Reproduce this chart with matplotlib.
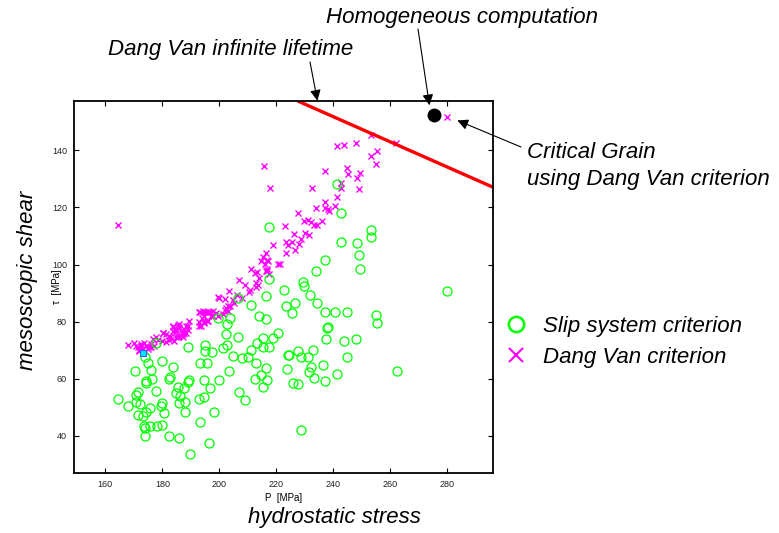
import matplotlib
matplotlib.use("Agg")
import matplotlib.pyplot as plt
from matplotlib.lines import Line2D

plt.rcParams["font.family"] = ["Liberation Sans", "DejaVu Sans"]

# slip system criterion (green circles): P [MPa], tau [MPa]
slip_P = [
    177.8, 206.4, 199.4, 202.6, 203.6, 202.4, 206.6, 211.2, 216.4, 216.5, 213.8, 220.5,
    218.7, 215.3, 213.2, 215.4, 217.3, 222.8, 223.4, 224.1, 223.6, 188.9, 195.1, 194.9,
    197.3, 201.1, 202.8, 204.9, 208.0, 210.1, 211.0, 213.0, 216.4, 214.6, 212.6, 216.7,
    215.2, 207.0, 208.9, 203.3, 199.8, 196.6, 194.6, 193.3, 195.7, 194.7, 193.0, 198.2,
    193.1, 196.5, 189.6, 185.7, 182.5, 188.0, 188.0, 186.0, 186.2, 184.8, 185.6, 187.6,
    189.5, 189.0, 182.2, 182.7, 183.9, 180.0, 176.1, 176.4, 174.3, 174.1, 177.8, 170.5,
    174.8, 174.0, 171.6, 170.9, 164.3, 168.1, 170.8, 172.3, 171.6, 173.3, 174.1, 175.8,
    179.4, 179.9, 180.5, 173.7, 175.5, 178.0, 179.9, 173.8, 173.9,
    229.5, 229.8, 231.8, 226.6, 225.6, 234.1, 237.0, 240.7, 244.8, 255.1, 255.2, 280.0,
    237.7, 238.2, 237.5, 243.8, 248.1, 244.9, 232.7, 227.7, 224.5, 228.5, 231.0, 232.2,
    236.3, 231.3, 233.1, 241.4, 237.0, 262.2, 226.0, 227.7, 228.6,
    241.3, 242.5, 242.5, 248.2, 248.9, 249.3, 237.2, 233.9, 253.1, 253.3, 217.5, 217.3,
]
slip_tau = [
    72.7, 88.2, 81.3, 79.2, 81.3, 75.7, 74.5, 86.0, 89.1, 81.0, 82.0, 76.0,
    74.3, 74.3, 72.4, 71.0, 71.3, 91.1, 85.4, 68.4, 63.3, 71.0, 71.8, 69.6,
    69.5, 70.8, 71.9, 68.1, 67.3, 67.8, 70.0, 65.5, 63.7, 61.2, 60.1, 59.5,
    57.2, 55.5, 52.5, 62.7, 59.5, 56.7, 59.6, 65.7, 65.7, 53.6, 52.9, 48.2,
    44.8, 37.5, 33.6, 39.2, 40.0, 48.5, 51.8, 51.5, 54.0, 55.1, 57.0, 56.7,
    59.7, 58.7, 60.0, 60.7, 64.2, 66.3, 63.0, 60.0, 59.3, 58.5, 55.7, 62.7,
    65.7, 67.7, 55.4, 54.3, 52.9, 50.3, 51.8, 51.1, 47.3, 46.8, 48.2, 49.6,
    50.3, 51.6, 48.0, 43.5, 43.5, 43.5, 43.9, 42.7, 40.0,
    93.8, 92.4, 89.4, 86.4, 83.0, 86.4, 83.5, 83.3, 83.5, 82.5, 79.4, 90.8,
    77.9, 78.3, 74.0, 73.1, 74.1, 67.8, 70.2, 69.6, 68.5, 67.5, 67.5, 64.3,
    65.0, 62.3, 60.2, 61.6, 59.2, 62.8, 58.5, 58.0, 42.1,
    128.1, 118.2, 107.8, 107.7, 103.4, 98.4, 101.6, 97.8, 112.0, 109.7, 113.2, 95.1,
]

# Dang Van criterion (magenta crosses)
dv_P = [
    280.0, 241.1, 243.7, 248.1, 253.1, 262.0, 253.2, 255.2, 255.0, 237.0, 244.9, 245.0,
    249.2, 248.3, 242.5, 242.6, 248.9, 232.6, 241.4, 237.0, 237.0, 238.0, 238.5, 240.7,
    233.8, 227.7, 236.1, 231.2, 232.1, 229.6, 233.2, 234.3, 222.9, 226.1, 230.1, 231.3,
    223.4, 225.5, 228.8, 228.1, 224.2, 226.6, 223.5, 221.1,
    164.3, 215.5, 217.7, 218.8, 216.5, 215.2, 216.7, 214.6, 216.1, 220.6, 211.1, 213.2,
    216.4, 213.8, 212.8, 217.3, 207.0, 209.0, 210.9, 203.3, 206.2, 210.3,
    216.9, 216.6, 216.8, 212.5, 213.4, 212.9, 208.0, 199.8, 202.0, 205.0, 203.9, 202.4,
    202.9, 195.3, 196.8, 198.8, 199.4, 201.2, 197.6,
    199.6, 204.7, 202.9, 202.0, 197.9, 196.9, 194.7, 193.3, 193.9, 194.7, 193.0, 195.9,
    189.5, 188.3, 188.9, 185.7, 186.0, 183.9, 184.8, 183.6, 187.1, 186.0, 187.7, 182.7,
    184.8, 184.2, 181.3, 180.1, 179.9, 181.3, 182.5,
    167.8, 170.2, 170.8, 171.3, 171.9, 172.5, 173.7, 174.3, 174.8, 175.4, 176.0, 176.6,
    177.8, 178.4, 180.1, 182.5, 183.0, 183.6, 184.8, 185.4, 186.5, 187.7, 188.3, 188.9,
    185.4, 187.1, 193.0, 194.1, 194.7, 193.0, 194.7, 193.6, 195.6, 195.9, 173.1, 171.9,
    174.0, 176.0, 177.2, 172.5,
]
dv_tau = [
    151.6, 141.6, 141.8, 142.6, 145.3, 142.6, 137.9, 139.8, 135.2, 132.7, 133.9, 131.7,
    132.2, 130.4, 128.7, 126.9, 126.6, 126.7, 123.5, 122.0, 119.9, 119.4, 118.9, 120.4,
    119.9, 118.2, 115.4, 115.7, 114.8, 115.1, 113.9, 113.7, 113.6, 110.8, 111.0, 110.4,
    107.8, 107.8, 108.8, 107.3, 107.0, 105.2, 104.2, 100.2,
    114.0, 134.5, 126.9, 106.9, 104.2, 102.8, 101.6, 101.4, 100.2, 100.3, 98.5, 97.3,
    97.9, 95.3, 93.7, 96.7, 94.6, 92.9, 91.1, 90.8, 89.5, 90.3,
    101.4, 97.6, 98.5, 97.1, 93.0, 92.3, 88.3, 88.3, 88.0, 86.4, 85.4, 84.8,
    83.9, 83.5, 83.3, 83.0, 82.1, 82.7, 82.1,
    88.5, 87.6, 85.6, 84.1, 83.9, 82.1, 83.3, 83.3, 81.3, 79.4, 78.6, 80.3,
    80.1, 78.6, 77.1, 79.2, 78.0, 78.4, 76.8, 76.6, 75.7, 75.1, 76.2, 74.7,
    74.5, 73.3, 75.7, 76.2, 73.3, 73.0, 73.6,
    71.8, 72.7, 71.6, 71.0, 70.1, 72.2, 72.7, 71.6, 70.4, 71.0, 72.2, 73.9,
    74.7, 73.6, 75.9, 75.1, 73.9, 78.2, 77.4, 78.9, 76.8, 77.4, 76.2, 78.6,
    74.5, 74.7, 83.3, 83.9, 82.1, 79.8, 79.8, 78.6, 80.4, 83.3, 70.4, 69.6,
    69.8, 71.0, 71.6, 71.6,
]

# Dang Van infinite lifetime line, homogeneous computation, odd grain
line_P = [227.5, 296.0]
line_tau = [157.3, 127.1]
homog_P, homog_tau = 275.2, 152.3
cyan_P, cyan_tau = 173.2, 69.1

xticks = [160, 180, 200, 220, 240, 260, 280]
yticks = [40, 60, 80, 100, 120, 140]

W, H = 779, 533
fig = plt.figure(figsize=(W / 100, H / 100), dpi=100)
ax = fig.add_axes([74 / W, 1 - 473 / H, 419 / W, 372 / H])

ax.plot(dv_P, dv_tau, ls="none", marker="x", ms=4, mew=1.0, color="#ff00ff")
ax.plot(slip_P, slip_tau, ls="none", marker="o", ms=6.5, mew=0.9,
        mfc="none", mec="#00ff00")
ax.plot([cyan_P], [cyan_tau], ls="none", marker="s", ms=4.5, mfc="#00e5ff",
        mec="#3060ff", mew=0.8)
ax.plot(line_P, line_tau, color="#ff0000", lw=2.4, solid_capstyle="butt")
ax.plot([homog_P], [homog_tau], ls="none", marker="o", ms=9, color="black")

ax.set_xlim(149, 296)
ax.set_ylim(27, 157.3)
ax.set_xticks(xticks)
ax.set_yticks(yticks)
ax.tick_params(direction="in", top=True, right=True, length=3.5, width=0.8,
               labelsize=6.5, labelcolor="#222222", pad=5)
for s in ax.spines.values():
    s.set_linewidth(1.3)

ax.set_xlabel("P  [MPa]", fontsize=7, labelpad=3)
ax.set_ylabel("τ  [MPa]", fontsize=7)
ax.yaxis.set_label_coords(-0.029, 0.5)

big = dict(fontsize=16, style="italic")
fig.text(334 / W, 1 - 518 / H, "hydrostatic stress", ha="center", va="center", **big)
fig.text(28 / W, 1 - 280 / H, "mesoscopic shear", ha="center", va="center",
         rotation=90, **big)

arrow = dict(arrowstyle="-|>", color="black", lw=0.8, mutation_scale=16,
             shrinkA=0, shrinkB=0)
fig.text(598 / W, 1 - 17 / H, "Homogeneous computation", ha="right", va="center", **big)
ax.annotate("", xy=(273.7, 155.8), xycoords="data",
            xytext=(418 / W, 1 - 29 / H), textcoords="figure fraction",
            arrowprops=arrow, annotation_clip=False)
fig.text(108 / W, 1 - 50 / H, "Dang Van infinite lifetime", ha="left", va="center", **big)
ax.annotate("", xy=(234.4, 157.4), xycoords="data",
            xytext=(310 / W, 1 - 62 / H), textcoords="figure fraction",
            arrowprops=arrow, annotation_clip=False)
fig.text(527 / W, 1 - 166 / H, "Critical Grain\nusing Dang Van criterion",
         ha="left", va="center", linespacing=1.4, **big)
ax.annotate("", xy=(283.5, 150.5), xycoords="data",
            xytext=(521 / W, 1 - 147 / H), textcoords="figure fraction",
            arrowprops=arrow, annotation_clip=False)

handles = [
    Line2D([], [], ls="none", marker="o", ms=11, mfc="none", mec="#00ff00", mew=1.8),
    Line2D([], [], ls="none", marker="x", ms=10, color="#ff00ff", mew=1.5),
]
fig.legend(handles, ["Slip system criterion", "Dang Van criterion"],
           loc="upper left", bbox_to_anchor=(505 / W, 1 - 316 / H),
           frameon=False, borderpad=0, borderaxespad=0, handlelength=1.0,
           handletextpad=0.7, labelspacing=0.45,
           prop=dict(family=["Liberation Sans"], size=16, style="italic"))

fig.savefig("out.png", dpi=100)
